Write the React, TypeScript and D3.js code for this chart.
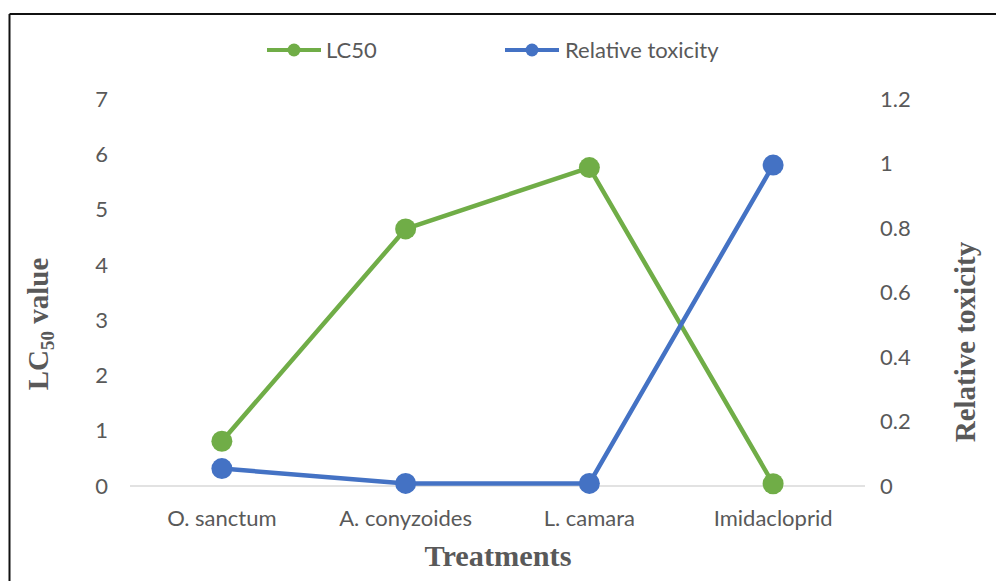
import React from "react";
import * as d3 from "d3";

const categories = ["O. sanctum", "A. conyzoides", "L. camara", "Imidacloprid"];
const lc50Values = [0.81, 4.65, 5.76, 0.04];
const relToxValues = [0.054, 0.008, 0.008, 0.995];
const leftTicks = [0, 1, 2, 3, 4, 5, 6, 7];
const rightTicks = [0, 0.2, 0.4, 0.6, 0.8, 1, 1.2];

const W = 996;
const H = 581;
const GREEN = "#70AD47";
const BLUE = "#4472C4";
const TXT = "#595959";
const SANS = "Lato, 'Open Sans', sans-serif";
const SERIF = "'Liberation Serif', 'DejaVu Serif', serif";

export default function App() {
  const x = d3.scaleBand<string>().domain(categories).range([130, 865]);
  const yL = d3.scaleLinear().domain([0, 7]).range([486, 99]);
  const yR = d3.scaleLinear().domain([0, 1.2]).range([486, 99]);
  const cx = (c: string) => (x(c) as number) + x.bandwidth() / 2;

  const lineL = d3
    .line<number>()
    .x((_, i) => cx(categories[i]))
    .y((d) => yL(d));
  const lineR = d3
    .line<number>()
    .x((_, i) => cx(categories[i]))
    .y((d) => yR(d));

  return (
    <svg
      width={W}
      height={H}
      style={{ position: "absolute", left: 0, top: 0, background: "#fff" }}
    >
      <rect x={0} y={0} width={W} height={H} fill="#fff" />
      {/* frame */}
      <line x1={9.5} y1={14} x2={W} y2={14} stroke="#111" strokeWidth={2} />
      <line x1={9.5} y1={14} x2={9.5} y2={H} stroke="#111" strokeWidth={2} />

      {/* legend */}
      <g>
        <line x1={267} x2={321} y1={50} y2={50} stroke={GREEN} strokeWidth={4} />
        <circle cx={294} cy={50} r={6.5} fill={GREEN} />
        <text x={326} y={50} dy="0.35em" fontFamily={SANS} fontSize={22} fill={TXT}>
          LC50
        </text>
        <line x1={505} x2={559} y1={50} y2={50} stroke={BLUE} strokeWidth={4} />
        <circle cx={532} cy={50} r={6.5} fill={BLUE} />
        <text x={565} y={50} dy="0.35em" fontFamily={SANS} fontSize={22} fill={TXT}>
          Relative toxicity
        </text>
      </g>

      {/* baseline */}
      <line x1={130} x2={865} y1={yL(0)} y2={yL(0)} stroke="#D9D9D9" strokeWidth={1.3} />

      {/* left ticks */}
      {leftTicks.map((t) => (
        <text
          key={"l" + t}
          x={108}
          y={yL(t)}
          dy="0.35em"
          textAnchor="end"
          fontFamily={SANS}
          fontSize={22}
          fill={TXT}
        >
          {t}
        </text>
      ))}
      {/* right ticks */}
      {rightTicks.map((t) => (
        <text
          key={"r" + t}
          x={880}
          y={yR(t)}
          dy="0.35em"
          textAnchor="start"
          fontFamily={SANS}
          fontSize={22}
          fill={TXT}
        >
          {d3.format("~g")(t)}
        </text>
      ))}
      {/* category labels */}
      {categories.map((c) => (
        <text
          key={c}
          x={cx(c)}
          y={518}
          dy="0.35em"
          textAnchor="middle"
          fontFamily={SANS}
          fontSize={22}
          fill={TXT}
        >
          {c}
        </text>
      ))}

      {/* axis titles */}
      <text
        x={498}
        y={566}
        textAnchor="middle"
        fontFamily={SERIF}
        fontWeight="bold"
        fontSize={29}
        textLength={147}
        lengthAdjust="spacingAndGlyphs"
        fill={TXT}
      >
        Treatments
      </text>
      <text
        transform="translate(48,324) rotate(-90)"
        textAnchor="middle"
        fontFamily={SERIF}
        fontWeight="bold"
        fontSize={29}
        fill={TXT}
      >
        LC
        <tspan fontSize={19} dy={6}>50</tspan>
        <tspan dy={-6}> value</tspan>
      </text>
      <text
        transform="translate(975,342) rotate(-90)"
        textAnchor="middle"
        fontFamily={SERIF}
        fontWeight="bold"
        fontSize={29}
        fill={TXT}
      >
        Relative toxicity
      </text>

      {/* series */}
      <path d={lineL(lc50Values) || ""} fill="none" stroke={GREEN} strokeWidth={4.5} strokeLinejoin="round" />
      <path d={lineR(relToxValues) || ""} fill="none" stroke={BLUE} strokeWidth={4.5} strokeLinejoin="round" />
      {lc50Values.map((v, i) => (
        <circle key={"g" + i} cx={cx(categories[i])} cy={yL(v)} r={10.5} fill={GREEN} />
      ))}
      {relToxValues.map((v, i) => (
        <circle key={"b" + i} cx={cx(categories[i])} cy={yR(v)} r={10.5} fill={BLUE} />
      ))}
    </svg>
  );
}
